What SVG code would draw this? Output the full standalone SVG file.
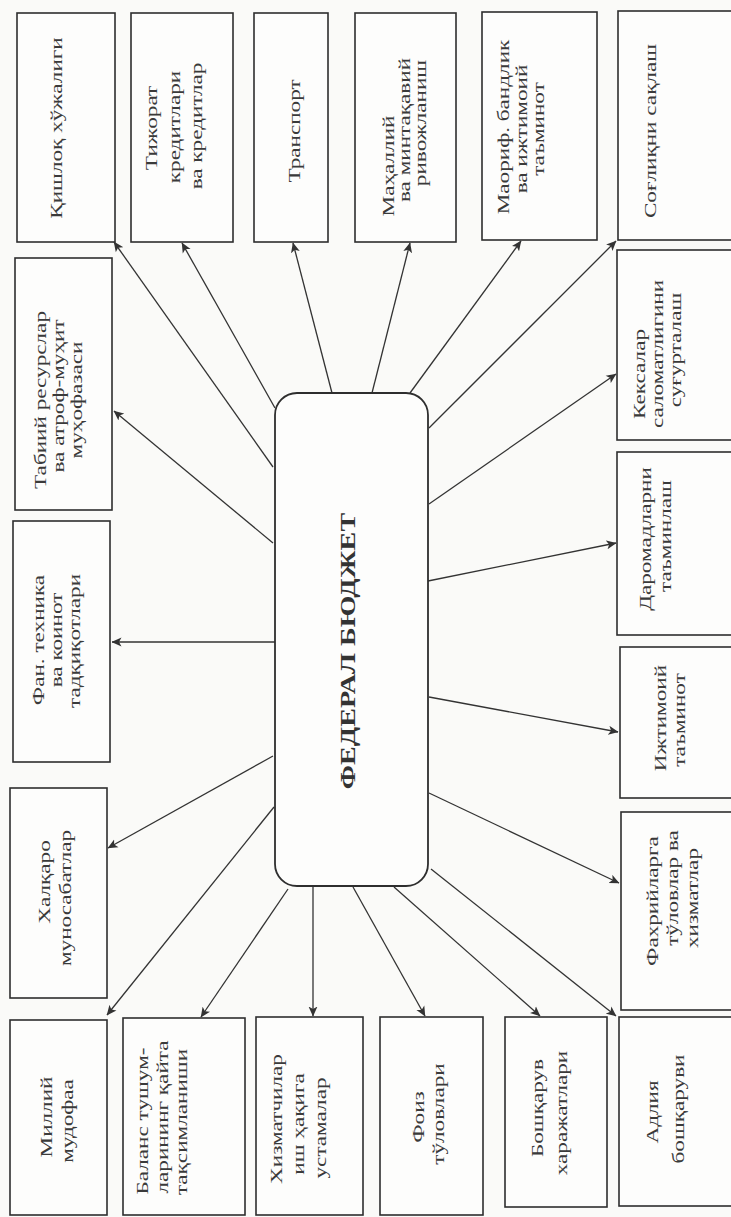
<svg xmlns="http://www.w3.org/2000/svg" width="731" height="1217" viewBox="0 0 731 1217">
  <style>
    .bg { fill: #fafaf8; }
    .box { fill: #fdfdfc; stroke: #2e2e2e; stroke-width: 1.6; }
    .hub { fill: #fdfdfc; stroke: #2e2e2e; stroke-width: 1.8; }
    .lbl { font-family: "Liberation Serif", "Times New Roman", serif; font-size: 16px; fill: #3a3a3a; text-anchor: middle; }
    .hub-lbl { font-family: "Liberation Serif", "Times New Roman", serif; font-size: 20px; font-weight: bold; fill: #333; text-anchor: middle; }
    .edge { stroke: #333; stroke-width: 1.3; fill: none; marker-end: url(#arrow); }
  </style>
  <defs>
    <marker id="arrow" viewBox="0 0 10 10" markerUnits="userSpaceOnUse" markerWidth="10" markerHeight="10" refX="9.5" refY="5" orient="auto">
      <path d="M0,0.5 L10,5 L0,9.5 L2.5,5 Z" fill="#333"/>
    </marker>
  </defs>

  <rect class="bg" x="0" y="0" width="731" height="1217"/>

  <!-- connectors: hub to every budget item -->
  <g id="connectors">
    <line class="edge" x1="273" y1="467" x2="114" y2="242"/>
    <line class="edge" x1="275" y1="408" x2="182" y2="243"/>
    <line class="edge" x1="332" y1="393" x2="293" y2="243"/>
    <line class="edge" x1="372" y1="393" x2="410" y2="243"/>
    <line class="edge" x1="410" y1="393" x2="521" y2="241"/>
    <line class="edge" x1="429" y1="428" x2="616" y2="241"/>
    <line class="edge" x1="429" y1="504" x2="616" y2="374"/>
    <line class="edge" x1="273" y1="543" x2="114" y2="411"/>
    <line class="edge" x1="275" y1="642" x2="112" y2="642"/>
    <line class="edge" x1="428" y1="581" x2="616" y2="543"/>
    <line class="edge" x1="429" y1="697" x2="618" y2="732"/>
    <line class="edge" x1="273" y1="756" x2="108" y2="848"/>
    <line class="edge" x1="429" y1="793" x2="619" y2="883"/>
    <line class="edge" x1="274" y1="807" x2="107" y2="1015"/>
    <line class="edge" x1="288" y1="889" x2="201" y2="1017"/>
    <line class="edge" x1="313" y1="887" x2="313" y2="1016"/>
    <line class="edge" x1="353" y1="887" x2="425" y2="1016"/>
    <line class="edge" x1="394" y1="887" x2="540" y2="1016"/>
    <line class="edge" x1="431" y1="869" x2="616" y2="1016"/>
  </g>

  <!-- hub -->
  <g id="federal-budget">
    <rect class="hub" x="275" y="393" width="153" height="493" rx="22" ry="22"/>
    <text class="hub-lbl" transform="translate(355,651) rotate(-90) scale(1.41,1)">ФЕДЕРАЛ БЮДЖЕТ</text>
  </g>

  <!-- top row -->
  <g id="agriculture">
    <rect class="box" x="17" y="13" width="98" height="229"/>
    <text class="lbl" transform="translate(62,128) rotate(-90) scale(1.45,1)">Қишлоқ хўжалиги</text>
  </g>
  <g id="commerce-credit">
    <rect class="box" x="131" y="13" width="102" height="229"/>
    <text class="lbl" transform="translate(157,128) rotate(-90) scale(1.45,1)">Тижорат</text>
    <text class="lbl" transform="translate(180,127) rotate(-90) scale(1.45,1)">кредитлари</text>
    <text class="lbl" transform="translate(202,126) rotate(-90) scale(1.45,1)">ва кредитлар</text>
  </g>
  <g id="transport">
    <rect class="box" x="254" y="13" width="74" height="229"/>
    <text class="lbl" transform="translate(300,131) rotate(-90) scale(1.45,1)">Транспорт</text>
  </g>
  <g id="regional-development">
    <rect class="box" x="355" y="13" width="101" height="229"/>
    <text class="lbl" transform="translate(394,166) rotate(-90) scale(1.45,1)">Маҳаллий</text>
    <text class="lbl" transform="translate(410,130) rotate(-90) scale(1.45,1)">ва минтақавий</text>
    <text class="lbl" transform="translate(426,123) rotate(-90) scale(1.45,1)">ривожланиш</text>
  </g>
  <g id="education-employment">
    <rect class="box" x="482" y="12" width="115" height="228"/>
    <text class="lbl" transform="translate(509,127) rotate(-90) scale(1.45,1)">Маориф. бандлик</text>
    <text class="lbl" transform="translate(527,129) rotate(-90) scale(1.45,1)">ва ижтимоий</text>
    <text class="lbl" transform="translate(544,129) rotate(-90) scale(1.45,1)">таъминот</text>
  </g>
  <g id="health">
    <rect class="box" x="618" y="11" width="120" height="229"/>
    <text class="lbl" transform="translate(656,131) rotate(-90) scale(1.45,1)">Соғлиқни сақлаш</text>
  </g>

  <!-- left column -->
  <g id="natural-resources">
    <rect class="box" x="15" y="258" width="97" height="252"/>
    <text class="lbl" transform="translate(46,400) rotate(-90) scale(1.45,1)">Табиий ресурслар</text>
    <text class="lbl" transform="translate(64,396) rotate(-90) scale(1.45,1)">ва атроф-муҳит</text>
    <text class="lbl" transform="translate(82,400) rotate(-90) scale(1.45,1)">муҳофазаси</text>
  </g>
  <g id="science-space">
    <rect class="box" x="13" y="521" width="97" height="241"/>
    <text class="lbl" transform="translate(44,640) rotate(-90) scale(1.45,1)">Фан. техника</text>
    <text class="lbl" transform="translate(62,640) rotate(-90) scale(1.45,1)">ва коинот</text>
    <text class="lbl" transform="translate(80,641) rotate(-90) scale(1.45,1)">тадқиқотлари</text>
  </g>
  <g id="international-relations">
    <rect class="box" x="10" y="788" width="97" height="210"/>
    <text class="lbl" transform="translate(50,882) rotate(-90) scale(1.45,1)">Халқаро</text>
    <text class="lbl" transform="translate(71,898) rotate(-90) scale(1.45,1)">муносабатлар</text>
  </g>

  <!-- bottom row -->
  <g id="national-defense">
    <rect class="box" x="10" y="1020" width="97" height="195"/>
    <text class="lbl" transform="translate(52,1117) rotate(-90) scale(1.45,1)">Миллий</text>
    <text class="lbl" transform="translate(73,1121) rotate(-90) scale(1.45,1)">мудофаа</text>
  </g>
  <g id="balance-redistribution">
    <rect class="box" x="123" y="1018" width="122" height="197"/>
    <text class="lbl" transform="translate(148,1121) rotate(-90) scale(1.45,1)">Баланс тушум-</text>
    <text class="lbl" transform="translate(168,1117) rotate(-90) scale(1.45,1)">ларининг қайта</text>
    <text class="lbl" transform="translate(187,1122) rotate(-90) scale(1.45,1)">тақсимланиши</text>
  </g>
  <g id="staff-allowances">
    <rect class="box" x="256" y="1017" width="107" height="198"/>
    <text class="lbl" transform="translate(282,1119) rotate(-90) scale(1.45,1)">Хизматчилар</text>
    <text class="lbl" transform="translate(304,1124) rotate(-90) scale(1.45,1)">иш ҳақига</text>
    <text class="lbl" transform="translate(326,1128) rotate(-90) scale(1.45,1)">устамалар</text>
  </g>
  <g id="interest-payments">
    <rect class="box" x="380" y="1017" width="103" height="198"/>
    <text class="lbl" transform="translate(424,1117) rotate(-90) scale(1.45,1)">Фоиз</text>
    <text class="lbl" transform="translate(444,1114) rotate(-90) scale(1.45,1)">тўловлари</text>
  </g>
  <g id="administration-costs">
    <rect class="box" x="505" y="1017" width="102" height="190"/>
    <text class="lbl" transform="translate(543,1108) rotate(-90) scale(1.45,1)">Бошқарув</text>
    <text class="lbl" transform="translate(567,1113) rotate(-90) scale(1.45,1)">харажатлари</text>
  </g>
  <g id="justice">
    <rect class="box" x="619" y="1017" width="120" height="189"/>
    <text class="lbl" transform="translate(658,1112) rotate(-90) scale(1.45,1)">Адлия</text>
    <text class="lbl" transform="translate(684,1109) rotate(-90) scale(1.45,1)">бошқаруви</text>
  </g>

  <!-- right column -->
  <g id="elderly-health-insurance">
    <rect class="box" x="617" y="250" width="120" height="190"/>
    <text class="lbl" transform="translate(645,374) rotate(-90) scale(1.45,1)">Кексалар</text>
    <text class="lbl" transform="translate(663,354) rotate(-90) scale(1.45,1)">саломатлигини</text>
    <text class="lbl" transform="translate(681,350) rotate(-90) scale(1.45,1)">суғурталаш</text>
  </g>
  <g id="income-support">
    <rect class="box" x="617" y="452" width="120" height="183"/>
    <text class="lbl" transform="translate(651,539) rotate(-90) scale(1.45,1)">Даромадларни</text>
    <text class="lbl" transform="translate(671,536) rotate(-90) scale(1.45,1)">таъминлаш</text>
  </g>
  <g id="social-security">
    <rect class="box" x="620" y="647" width="120" height="151"/>
    <text class="lbl" transform="translate(666,718) rotate(-90) scale(1.45,1)">Ижтимоий</text>
    <text class="lbl" transform="translate(685,720) rotate(-90) scale(1.45,1)">таъминот</text>
  </g>
  <g id="veterans">
    <rect class="box" x="621" y="812" width="120" height="198"/>
    <text class="lbl" transform="translate(658,901) rotate(-90) scale(1.45,1)">Фахрийларга</text>
    <text class="lbl" transform="translate(678,888) rotate(-90) scale(1.45,1)">тўловлар ва</text>
    <text class="lbl" transform="translate(698,898) rotate(-90) scale(1.45,1)">хизматлар</text>
  </g>
</svg>
